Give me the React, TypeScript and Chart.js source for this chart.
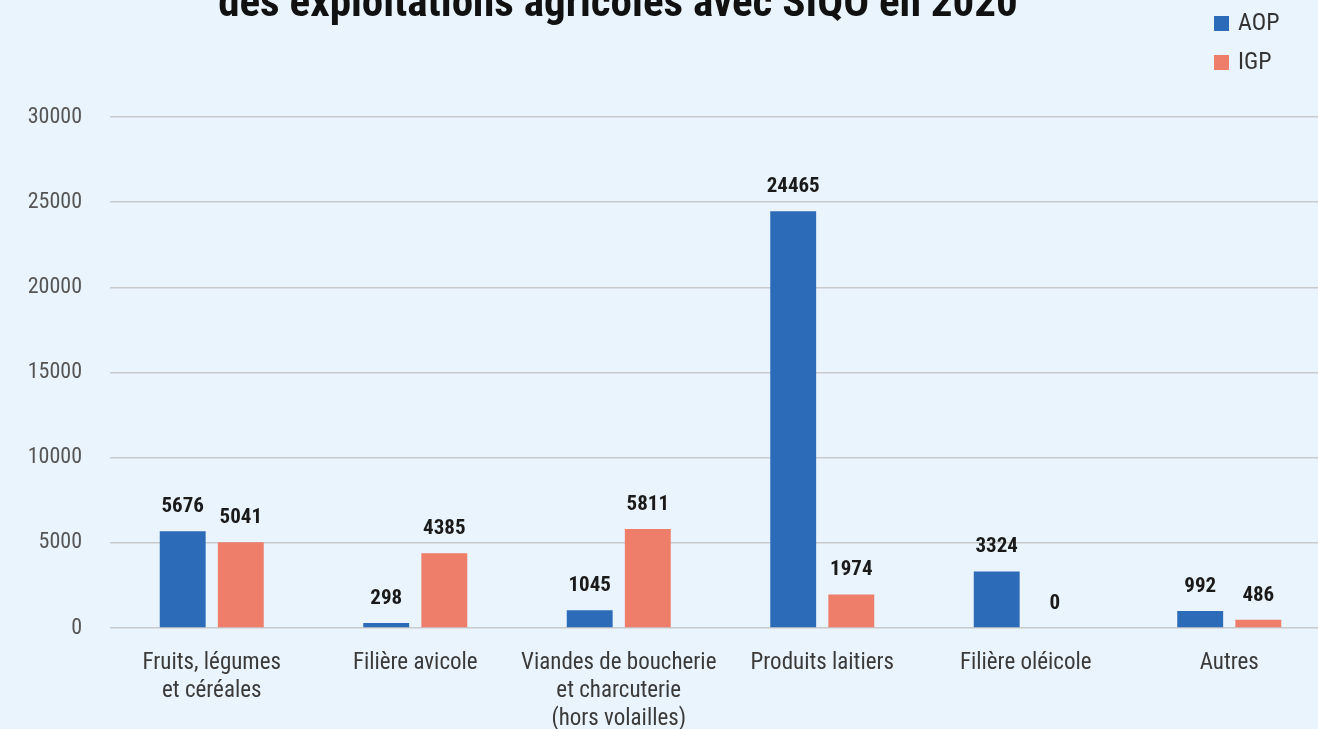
import React, { useEffect, useRef } from "react";
import { Chart, registerables } from "chart.js";

Chart.register(...registerables);

const TITLE = "des exploitations agricoles avec SIQO en 2020";
const categories: string[][] = [
  ["Fruits, légumes", "et céréales"],
  ["Filière avicole"],
  ["Viandes de boucherie", "et charcuterie", "(hors volailles)"],
  ["Produits laitiers"],
  ["Filière oléicole"],
  ["Autres"],
];
const seriesNames = ["AOP", "IGP"];
const aopValues = [5676, 298, 1045, 24465, 3324, 992];
const igpValues = [5041, 4385, 5811, 1974, 0, 486];
const yMin = 0;
const yMax = 30000;
const yStep = 5000;

const BLUE = "#2C6BB8";
const RED = "#EE7D6A";
const BG = "#EAF4FC";
const NARROW = "'Roboto Condensed', 'Open Sans Condensed', sans-serif";

const valueLabels = {
  id: "valueLabels",
  afterDatasetsDraw(chart: any) {
    const ctx = chart.ctx;
    ctx.save();
    ctx.font = `bold 21px ${NARROW}`;
    ctx.fillStyle = "#1a1a1a";
    ctx.textAlign = "center";
    ctx.textBaseline = "alphabetic";
    chart.data.datasets.forEach((ds: any, di: number) => {
      const meta = chart.getDatasetMeta(di);
      meta.data.forEach((bar: any, i: number) => {
        ctx.fillText(String(ds.data[i]), bar.x, bar.y - 19);
      });
    });
    ctx.restore();
  },
};

const titleAndLegend = {
  id: "titleAndLegend",
  afterDraw(chart: any) {
    const ctx = chart.ctx;
    ctx.save();
    // title (partially cut at the top)
    let size = 36;
    ctx.font = `bold ${size}px ${NARROW}`;
    const w = ctx.measureText(TITLE).width;
    size = size * (800 / w);
    ctx.font = `bold ${size}px ${NARROW}`;
    ctx.fillStyle = "#111";
    ctx.textAlign = "center";
    ctx.textBaseline = "alphabetic";
    ctx.fillText(TITLE, 618, 16);
    // legend
    const colors = [BLUE, RED];
    ctx.font = `24px ${NARROW}`;
    ctx.textAlign = "left";
    ctx.textBaseline = "middle";
    seriesNames.forEach((name, i) => {
      const y = 23 + i * 39;
      ctx.fillStyle = colors[i];
      ctx.fillRect(1214, y - 7, 15, 15);
      ctx.fillStyle = "#333";
      ctx.fillText(name, 1238, y + 1);
    });
    ctx.restore();
  },
};

export default function App() {
  const ref = useRef<HTMLCanvasElement | null>(null);
  useEffect(() => {
    if (!ref.current) return;
    const chart = new Chart(ref.current, {
      type: "bar",
      data: {
        labels: categories,
        datasets: [
          { label: seriesNames[0], data: aopValues, backgroundColor: BLUE, categoryPercentage: 0.571, barPercentage: 0.79 },
          { label: seriesNames[1], data: igpValues, backgroundColor: RED, categoryPercentage: 0.571, barPercentage: 0.79 },
        ],
      },
      options: {
        responsive: false,
        animation: false,
        devicePixelRatio: 1,
        layout: { padding: { top: 117, left: 0, right: 0, bottom: 0 } },
        plugins: { legend: { display: false }, title: { display: false }, tooltip: { enabled: false } },
        scales: {
          x: {
            grid: { display: false, drawTicks: false },
            border: { display: false },
            ticks: {
              color: "#3a3a3a",
              font: { family: NARROW, size: 23, lineHeight: 1.22 },
              padding: 21,
              maxRotation: 0,
              autoSkip: false,
            },
            afterFit(scale: any) {
              scale.height = 101;
            },
          },
          y: {
            min: yMin,
            max: yMax,
            grid: { color: "#C8CACC", lineWidth: 1.5, drawTicks: false },
            border: { display: false },
            ticks: {
              stepSize: yStep,
              color: "#555",
              font: { family: NARROW, size: 22 },
              padding: 28,
              callback: (v: any) => String(v),
            },
            afterFit(scale: any) {
              scale.width = 110;
            },
          },
        },
      },
      plugins: [valueLabels, titleAndLegend],
    });
    return () => chart.destroy();
  }, []);
  return (
    <div style={{ position: "fixed", left: 0, top: 0, width: 1318, height: 729, overflow: "hidden", background: BG }}>
      <canvas ref={ref} width={1331} height={729} style={{ display: "block", width: 1331, height: 729 }} />
    </div>
  );
}
